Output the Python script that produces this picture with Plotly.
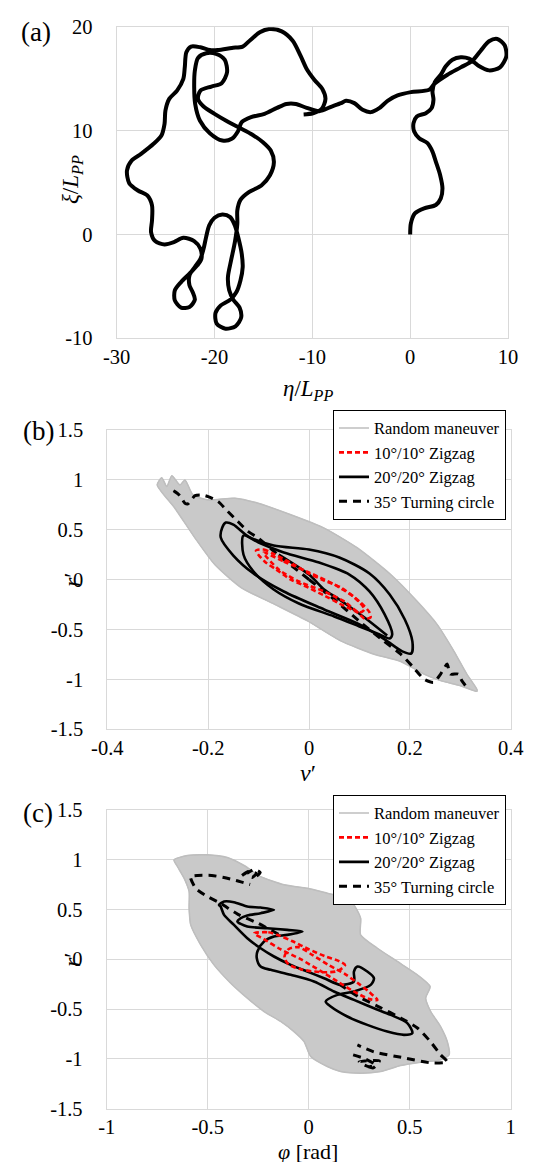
import plotly.graph_objects as go

# ---------------- (a) trajectory ----------------
a_eta = [-10.89, -9.94, -9.04, -8.66, -8.98, -9.78, -10.58, -11.21, -12.01, -13.13, -14.41, -15.37, -16.33, -17.12,
         -18.24, -19.68, -20.48, -21.44, -22.40, -22.88, -23.04, -23.19, -23.83, -24.63, -25.02, -25.11, -25.43,
         -26.23, -27.51, -28.47, -28.95, -28.72, -27.83, -26.87, -26.39, -26.39, -26.49, -26.07, -25.11, -24.15,
         -23.19, -22.08, -21.44, -21.34, -21.76, -22.56, -23.42, -24.06, -24.06, -23.42, -22.56, -22.01, -22.24,
         -22.56, -22.56, -22.01, -21.44, -21.12, -20.86, -20.54, -20.0, -19.20, -18.40, -17.92, -17.54, -17.22,
         -17.12, -17.35, -17.76, -18.40, -19.36, -19.90, -19.78, -18.88, -17.86, -17.28, -17.44, -18.08, -18.50,
         -18.63, -18.31, -17.92, -17.67, -17.67, -17.35, -16.49, -15.21, -14.35, -13.93, -14.25, -15.05, -16.17,
         -17.44, -18.72, -20.0, -21.12, -21.69, -21.44, -20.32, -19.27, -18.72, -18.95, -19.84, -20.86, -21.69,
         -22.01, -22.08, -21.98, -21.50, -20.48, -19.20, -18.24, -17.60, -17.22, -16.26, -14.89, -13.61, -12.65,
         -11.69, -10.58, -9.30, -8.02, -7.07, -6.56, -5.71, -4.86, -4.01, -3.16, -2.31, -1.29, 0.07, 1.94, 2.45,
         3.81, 5.17, 6.36, 7.21, 8.06, 8.91, 9.66, 9.83, 9.18, 8.06, 6.94, 6.02, 5.17, 4.32, 3.64, 3.13, 2.52,
         2.28, 2.38, 2.18, 1.60, 0.68, 0.34, 0.41, 0.92, 1.77, 2.28, 2.62, 3.06, 3.30, 3.13, 2.62, 1.43, 0.48,
         0.07, 0.0]
a_xi = [11.58, 11.70, 12.12, 13.09, 14.05, 14.92, 15.98, 17.27, 18.71, 19.61, 19.84, 19.52, 18.78, 18.14,
        18.01, 17.81, 17.81, 18.07, 18.14, 17.59, 16.14, 15.02, 13.89, 13.09, 11.96, 10.68, 9.55,
        8.75, 7.78, 7.14, 6.17, 4.95, 4.24, 3.76, 2.80, 1.35, 0.23, -0.64, -0.96, -0.74,
        -0.32, -0.64, -1.38, -2.35, -2.99, -3.79, -4.60, -5.40, -6.37, -7.07, -7.01, -6.30, -5.56,
        -4.92, -3.95, -3.15, -2.35, -1.38, -0.26, 0.87, 1.61, 1.93, 1.67, 0.87, -0.42, -1.86,
        -3.15, -4.44, -5.56, -6.30, -6.85, -7.59, -8.62, -9.10, -8.87, -8.04, -7.07, -6.30, -5.40,
        -4.12, -2.51, -0.74, 1.03, 2.32, 3.34, 4.08, 4.73, 5.69, 6.98, 8.10, 8.91, 9.65,
        10.29, 10.93, 11.64, 12.35, 13.09, 13.89, 14.28, 14.60, 15.66, 16.85, 17.43, 17.49, 17.04,
        15.82, 14.21, 12.60, 11.0, 9.78, 9.07, 9.23, 9.97, 10.84, 11.32, 11.64, 12.22, 12.60,
        12.60, 12.22, 11.90, 12.35, 12.68, 12.90, 12.68, 12.03, 11.81, 12.19, 12.90, 13.42, 13.74, 13.97, 14.52,
        15.42, 16.13, 16.77, 17.74, 18.65, 18.87, 18.26, 17.19, 16.13, 15.84, 16.32, 16.97, 17.10, 16.87, 16.23, 15.42, 14.71,
        13.81, 13.0, 12.19, 11.71, 11.39, 10.74, 9.94, 9.29, 8.81, 8.0, 7.03, 5.74, 4.45, 3.48, 2.84, 2.52, 2.03,
        1.06, 0.0]

# ---------------- (b) v' - r' ----------------
b_rand_v = [-0.301, -0.266, -0.226, -0.187, -0.134, -0.068, -0.003, 0.063, 0.129, 0.182, 0.228, 0.261, 0.300, 0.333,
            0.333, 0.313, 0.287, 0.254, 0.214, 0.162, 0.096, 0.030, -0.036, -0.101, -0.147, -0.2, -0.230, -0.246,
            -0.256, -0.272, -0.282, -0.292, -0.301]
b_rand_r = [0.947, 0.714, 0.415, 0.150, -0.083, -0.249, -0.415, -0.615, -0.748, -0.821, -0.947, -1.013, -1.063, -1.120,
            -1.10, -0.947, -0.714, -0.449, -0.216, 0.05, 0.316, 0.515, 0.648, 0.764, 0.814, 0.797, 0.847, 0.997,
            0.947, 1.040, 0.930, 1.020, 0.947]

b_tc_v = [0, -0.05, -0.101, -0.121, -0.141, -0.161, -0.18, -0.2, -0.213, -0.226, -0.240, -0.246, -0.256, -0.266, -0.279,
          None,
          0, 0.05, 0.10, 0.148, 0.182, 0.207, 0.228, 0.247, 0.261, 0.274, 0.280, 0.296, 0.303, 0.313]
b_tc_r = [0, 0.2, 0.415, 0.482, 0.581, 0.681, 0.78, 0.83, 0.847, 0.84, 0.757, 0.764, 0.84, 0.88, 0.914,
          None,
          0, -0.2, -0.42, -0.615, -0.748, -0.880, -0.997, -1.03, -0.947, -0.847, -0.947, -0.947, -1.013, -1.08]

b_z20_v = [-0.172, -0.165, -0.150, -0.12, -0.07, 0.0, 0.06, 0.12, 0.16, 0.19, 0.205, 0.203, 0.185, 0.15, 0.10, 0.03,
           -0.05, -0.11, -0.15, -0.175, -0.172,
           None,
           -0.13, -0.10, -0.05, 0.02, 0.08, 0.12, 0.15, 0.165, 0.16, 0.14, 0.10, 0.05, -0.02, -0.07, -0.11, -0.13, -0.13,
           None,
           -0.06, 0.0, 0.03, 0.06, 0.11, 0.155]
b_z20_r = [0.52, 0.57, 0.55, 0.43, 0.34, 0.30, 0.22, 0.06, -0.15, -0.40, -0.62, -0.74, -0.72, -0.60, -0.45, -0.30,
           -0.12, 0.06, 0.24, 0.42, 0.52,
           None,
           0.44, 0.37, 0.27, 0.17, 0.05, -0.12, -0.35, -0.55, -0.59, -0.55, -0.47, -0.37, -0.24, -0.10, 0.08, 0.25, 0.44,
           None,
           0.25, 0.05, -0.1, -0.2, -0.38, -0.56]

b_z10_v = [-0.105, -0.09, -0.068, -0.03, 0.0, 0.03, 0.063, 0.10, 0.12, 0.122, 0.11, 0.096, 0.06, 0.03, -0.01, -0.036,
           -0.065, -0.088, -0.105,
           None,
           -0.09, -0.05, 0.0, 0.05, 0.09, 0.11, 0.10, 0.07, 0.03, -0.02, -0.06, -0.09]
b_z10_r = [0.29, 0.30, 0.25, 0.15, 0.06, -0.01, -0.08, -0.22, -0.33, -0.38, -0.39, -0.33, -0.24, -0.16, -0.06, 0.0,
           0.1, 0.18, 0.29,
           None,
           0.27, 0.18, 0.07, -0.05, -0.18, -0.30, -0.33, -0.22, -0.12, -0.02, 0.10, 0.27]

# ---------------- (c) phi - r' ----------------
c_rand_p = [-0.667, -0.601, -0.502, -0.403, -0.320, -0.238, -0.122, -0.007, 0.092, 0.200, 0.224, 0.257, 0.257, 0.340,
            0.439, 0.538, 0.601, 0.579, 0.604, 0.653, 0.686, 0.695, 0.653, 0.554, 0.455, 0.356, 0.257, 0.158, 0.092,
            0.010, -0.023, -0.073, -0.139, -0.221, -0.304, -0.386, -0.469, -0.535, -0.584, -0.592, -0.592, -0.617,
            -0.650, -0.667]
c_rand_r = [0.997, 1.040, 1.047, 1.020, 0.940, 0.829, 0.746, 0.712, 0.662, 0.605, 0.545, 0.411, 0.244, 0.110,
            -0.023, -0.157, -0.274, -0.391, -0.525, -0.676, -0.826, -0.960, -1.010, -1.033, -1.067, -1.127, -1.144,
            -1.127, -1.077, -0.977, -0.826, -0.726, -0.625, -0.525, -0.391, -0.241, -0.057, 0.144, 0.344, 0.512, 0.679,
            0.813, 0.930, 0.997]

c_tc_p = [-0.15, -0.25, -0.35, -0.436, -0.502, -0.559, -0.584, -0.585, -0.55, -0.48, -0.42, -0.36, -0.29,
          None,
          -0.33, -0.30, -0.26, -0.28, -0.31, -0.27, -0.24, -0.26,
          None,
          0.15, 0.25, 0.35, 0.455, 0.538, 0.604, 0.653, 0.686, 0.604, 0.472, 0.323, 0.241,
          None,
          0.22, 0.28, 0.33, 0.30, 0.25, 0.35, 0.32, 0.27]
c_tc_r = [0.25, 0.36, 0.45, 0.56, 0.63, 0.71, 0.81, 0.83, 0.84, 0.84, 0.82, 0.79, 0.75,
          None,
          0.84, 0.88, 0.86, 0.82, 0.85, 0.90, 0.87, 0.83,
          None,
          -0.25, -0.38, -0.48, -0.59, -0.69, -0.83, -0.96, -1.03, -1.04, -0.99, -0.93, -0.86,
          None,
          -0.96, -1.0, -1.06, -1.08, -1.03, -1.02, -1.09, -1.06]

c_z20_p = [-0.444, -0.419, -0.370, -0.304, -0.238, -0.172, -0.238, -0.304, -0.337, -0.353, -0.304, -0.205, -0.106,
           -0.031, -0.106, -0.172, -0.221, -0.254, -0.257, -0.238, -0.188, -0.089, 0.026, 0.125, 0.224, 0.323, 0.406,
           0.488, 0.513, 0.472, 0.389, 0.290, 0.191, 0.109, 0.084, 0.142, 0.224, 0.307, 0.323, 0.290, 0.241, 0.224,
           0.224, 0.158, 0.076, -0.007, -0.089, -0.172, -0.238, -0.304, -0.370, -0.419, -0.436, -0.444]
c_z20_r = [0.545, 0.579, 0.572, 0.528, 0.518, 0.495, 0.462, 0.438, 0.411, 0.378, 0.328, 0.311, 0.294,
           0.278, 0.244, 0.227, 0.177, 0.077, 0.010, -0.074, -0.107, -0.157, -0.224, -0.324, -0.408, -0.492, -0.559,
           -0.642, -0.742, -0.759, -0.726, -0.659, -0.575, -0.475, -0.425, -0.358, -0.324, -0.258, -0.191, -0.124,
           -0.074, -0.124, -0.224, -0.258, -0.191, -0.124, -0.057, 0.027, 0.110, 0.211, 0.344, 0.445, 0.528, 0.545]

c_z10_p = [-0.27, -0.2, -0.15, -0.08, 0.0, 0.08, 0.15, 0.18, 0.14, 0.06, -0.04, -0.10, -0.12, -0.1, -0.05, 0.02,
           0.1, 0.18, 0.25, 0.3, 0.34, 0.3, 0.22, 0.14, 0.06, -0.04, -0.14, -0.22, -0.27]
c_z10_r = [0.26, 0.27, 0.24, 0.18, 0.1, 0.03, -0.02, -0.06, -0.12, -0.13, -0.10, -0.05, 0.02, 0.1, 0.12, 0.04,
           -0.06, -0.15, -0.25, -0.33, -0.41, -0.4, -0.32, -0.22, -0.12, 0.0, 0.1, 0.2, 0.26]

# ---------------- labels ----------------
a_xticks = [-30, -20, -10, 0, 10]
a_xtext = ["-30", "-20", "-10", "0", "10"]
a_yticks = [-10, 0, 10, 20]
a_ytext = ["-10", "0", "10", "20"]
b_xticks = [-0.4, -0.2, 0, 0.2, 0.4]
b_xtext = ["-0.4", "-0.2", "0", "0.2", "0.4"]
r_ticks = [-1.5, -1, -0.5, 0, 0.5, 1, 1.5]
r_text = ["-1.5", "-1", "-0.5", "0", "0.5", "1", "1.5"]
c_xticks = [-1, -0.5, 0, 0.5, 1]
c_xtext = ["-1", "-0.5", "0", "0.5", "1"]

legend_names = ["Random maneuver", "10°/10° Zigzag", "20°/20° Zigzag", "35° Turning circle"]

W, H = 556, 1162
SERIF = "'Liberation Serif', 'Times New Roman', Times, serif"
GRAY_LINE = "rgb(190,190,190)"
GRAY_FILL = "rgb(201,201,201)"

fig = go.Figure()

# (a)
fig.add_trace(go.Scatter(x=a_eta, y=a_xi, mode="lines", line=dict(color="black", width=4, shape="spline", smoothing=0.8),
                         showlegend=False, xaxis="x", yaxis="y", hoverinfo="skip"))


def add_panel(xa, ya, leg, rx, ry, tx, ty, zx, zy, ex, ey):
    fig.add_trace(go.Scatter(x=rx, y=ry, mode="lines", fill="toself", fillcolor=GRAY_FILL,
                             line=dict(color=GRAY_LINE, width=1, shape="spline", smoothing=0.6),
                             showlegend=False, xaxis=xa, yaxis=ya, hoverinfo="skip"))
    fig.add_trace(go.Scatter(x=rx, y=ry, mode="lines", name=legend_names[0],
                             line=dict(color=GRAY_LINE, width=1.5, shape="spline", smoothing=0.6),
                             legend=leg, legendrank=1, xaxis=xa, yaxis=ya))
    fig.add_trace(go.Scatter(x=tx, y=ty, mode="lines", name=legend_names[3],
                             line=dict(color="black", width=3, dash="8px,6px", shape="spline", smoothing=0.6),
                             legend=leg, legendrank=4, xaxis=xa, yaxis=ya))
    fig.add_trace(go.Scatter(x=zx, y=zy, mode="lines", name=legend_names[2],
                             line=dict(color="black", width=2.6, shape="spline", smoothing=0.8),
                             legend=leg, legendrank=3, xaxis=xa, yaxis=ya))
    fig.add_trace(go.Scatter(x=ex, y=ey, mode="lines", name=legend_names[1],
                             line=dict(color="red", width=2.6, dash="5px,3px", shape="spline", smoothing=0.8),
                             legend=leg, legendrank=2, xaxis=xa, yaxis=ya))


add_panel("x2", "y2", "legend2", b_rand_v, b_rand_r, b_tc_v, b_tc_r, b_z20_v, b_z20_r, b_z10_v, b_z10_r)
add_panel("x3", "y3", "legend3", c_rand_p, c_rand_r, c_tc_p, c_tc_r, c_z20_p, c_z20_r, c_z10_p, c_z10_r)

tickfont = dict(family=SERIF, size=20.5, color="black")


def ax(domain, rng, tv, tt, anchor, is_x):
    return dict(domain=domain, range=rng, tickvals=tv, ticktext=tt, anchor=anchor,
                showgrid=True, gridcolor="#d9d9d9", gridwidth=1, zeroline=False,
                showline=True, linecolor="#d9d9d9", linewidth=1, mirror=True, ticks="",
                tickfont=tickfont, fixedrange=True, ticklabelstandoff=0 if is_x else 19)


def px_x(p):
    return p / W


def px_y(p):
    return 1 - p / H


def legend_cfg(top):
    return dict(x=px_x(325), y=px_y(top), xanchor="left", yanchor="top", xref="paper", yref="paper",
                font=dict(family=SERIF, size=16.5, color="black"), bgcolor="white",
                bordercolor="black", borderwidth=1, tracegroupgap=0, itemwidth=30)


fig.update_layout(
    width=W, height=H, margin=dict(l=0, r=0, t=0, b=0, autoexpand=False),
    paper_bgcolor="white", plot_bgcolor="white",
    font=dict(family=SERIF, color="black"),
    xaxis=ax([px_x(108.7), px_x(500)], [-30, 10], a_xticks, a_xtext, "y", True),
    yaxis=ax([px_y(330), px_y(19.3)], [-10, 20], a_yticks, a_ytext, "x", False),
    xaxis2=ax([px_x(99.3), px_x(502.7)], [-0.4, 0.4], b_xticks, b_xtext, "y2", True),
    yaxis2=ax([px_y(721.3), px_y(421.7)], [-1.5, 1.5], r_ticks, r_text, "x2", False),
    xaxis3=ax([px_x(98.7), px_x(502.7)], [-1, 1], c_xticks, c_xtext, "y3", True),
    yaxis3=ax([px_y(1100.7), px_y(801.7)], [-1.5, 1.5], r_ticks, r_text, "x3", False),
    legend2=legend_cfg(401.7),
    legend3=legend_cfg(786.7),
    showlegend=True,
)

ann = [
    ("(a)", 28, 24, 27, 0),
    ("(b)", 30, 423, 27, 0),
    ("(c)", 30, 805, 27, 0),
    ("<i>η</i>/<i>L</i><sub><i>PP</i></sub>", 300, 382, 23, 0),
    ("<i>v</i>′", 300, 765, 24, 0),
    ("<i>φ</i> [rad]", 300, 1143, 22, 0),
    ("<i>ξ</i>/<i>L</i><sub><i>PP</i></sub>", 64, 172, 23, -90),
    ("<i>r</i>′", 64, 572, 24, -90),
    ("<i>r</i>′", 64, 952, 24, -90),
]
for text, x, y, size, ang in ann:
    fig.add_annotation(text=text, x=px_x(x), y=px_y(y), xref="paper", yref="paper",
                       xanchor="center", yanchor="middle", showarrow=False, textangle=ang,
                       font=dict(family=SERIF, size=size, color="black"))

fig.write_html("out.html")
